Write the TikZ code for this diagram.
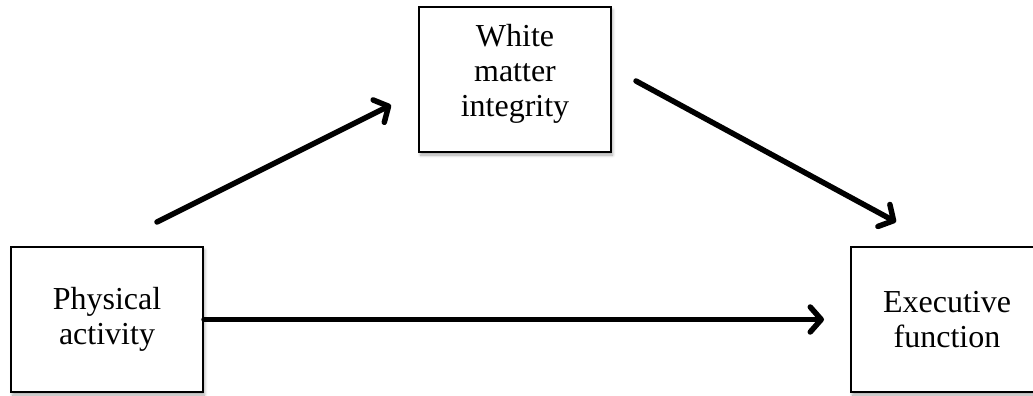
\documentclass[tikz,border=0pt]{standalone}
\usepackage{fontspec}
\setmainfont{Liberation Serif}
\usetikzlibrary{arrows.meta,shadows.blur}
\tikzset{
  varbox/.style={draw=black, line width=2pt, fill=white, minimum width=192pt,
    minimum height=145pt, inner sep=0pt,
    blur shadow={shadow xshift=1.5pt, shadow yshift=-3pt, shadow blur radius=3pt,
      shadow opacity=35, shadow blur steps=6}},
  boxtext/.style={align=center, inner sep=0pt, font=\fontsize{32}{35}\selectfont},
  path/.style={line width=5.5pt, line cap=round,
    -{Straight Barb[length=11pt, width=25pt, line cap=round, line join=round]}}
}
\begin{document}
\begin{tikzpicture}[x=1pt, y=-1pt]
  \useasboundingbox (0,0) rectangle (1033,396);
  \clip (0,0) rectangle (1033,396);
  % the three variables
  \node[varbox] (pa) at (107,319.5) {};
  \node[varbox] (wm) at (515,79.5) {};
  \node[varbox] (ef) at (947,319.5) {};
  \node[boxtext] (pat) at (pa.center) {Physical\\activity};
  \node[boxtext] (wmt) at ([yshift=6pt]wm.center) {White\\matter\\integrity};
  \node[boxtext] (eft) at (ef.center) {Executive\\function};
  % free ends of the paths
  \coordinate (a1s) at (157,222);
  \coordinate (a1e) at (391,105);
  \coordinate (a2s) at (636,81);
  \coordinate (a2e) at (896,222);
  \coordinate (a3e) at (824,319.5);
  % paths of the mediation model
  \draw[path] (a1s) -- (a1e);
  \draw[path] (a2s) -- (a2e);
  \draw[path] (pa.east) -- (a3e);
\end{tikzpicture}
\end{document}
